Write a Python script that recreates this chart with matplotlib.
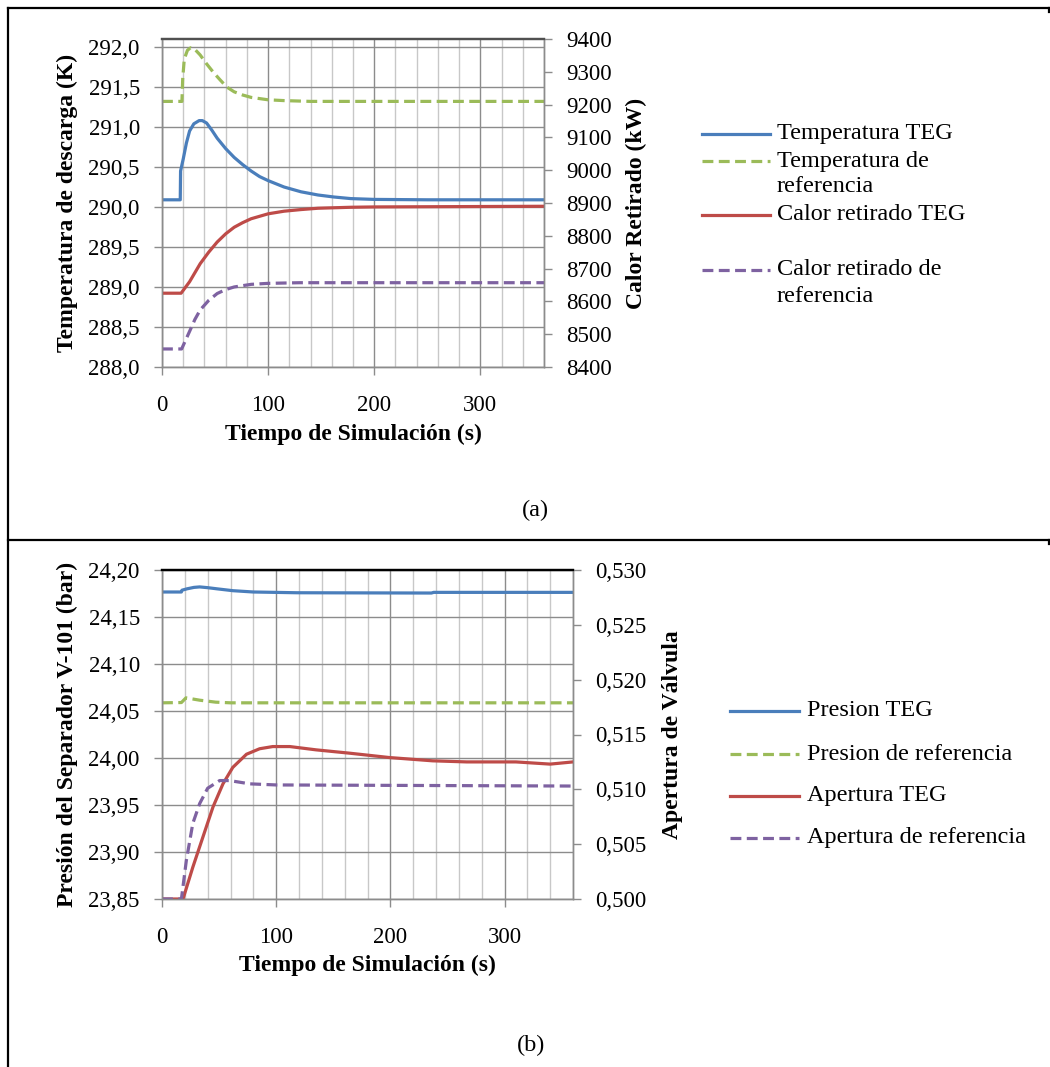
import numpy as np
import matplotlib
matplotlib.use('Agg')
import matplotlib.pyplot as plt
from matplotlib.lines import Line2D
from matplotlib.ticker import FuncFormatter, MultipleLocator

plt.rcParams['font.family'] = ['Liberation Serif', 'DejaVu Serif']
FS = 16.5      # numeros de ejes
FS_LAB = 17    # titulos de ejes
FS_LEG = 17.5  # leyenda

# ---- datos (a) ----
t_temp_teg = [0, 17.2, 17.5, 20, 23, 26, 30, 35, 38, 42, 47, 52, 60, 68, 76, 84, 92, 100,
              115, 131, 147, 162, 178, 200, 250, 360]
temp_teg = [290.09, 290.09, 290.45, 290.6, 290.8, 290.95, 291.04, 291.08, 291.08, 291.05,
            290.96, 290.86, 290.73, 290.62, 290.53, 290.45, 290.38, 290.33,
            290.25, 290.19, 290.15, 290.125, 290.105, 290.095, 290.09, 290.09]

t_temp_ref = [0, 18.8, 19.5, 21, 24, 27, 31, 36, 42, 48, 54, 61, 68, 76, 84, 100, 115, 140, 360]
temp_ref = [291.32, 291.32, 291.6, 291.85, 291.96, 291.99, 291.97, 291.9, 291.79, 291.69,
            291.6, 291.5, 291.44, 291.4, 291.37, 291.34, 291.33, 291.32, 291.32]

t_calor_teg = [0, 18, 26, 36, 44, 52, 60, 68, 76, 84, 100, 115, 131, 147, 178, 200, 360]
calor_teg = [8625, 8625, 8660, 8715, 8750, 8781, 8806, 8826, 8840, 8852, 8867, 8875,
             8880, 8884, 8887, 8888, 8890]

t_calor_ref = [0, 18.5, 22, 26.6, 31, 36, 44, 52, 60, 68, 84, 100, 130, 360]
calor_ref = [8455, 8455, 8480, 8513, 8545, 8574, 8603, 8624, 8636, 8644, 8652, 8655, 8657, 8657]

# ---- datos (b) ----
t_pres_teg = [0, 17, 17.5, 22, 28, 33, 40, 48, 62, 80, 118, 236, 238, 360]
pres_teg = [24.1766, 24.1766, 24.1785, 24.1800, 24.1815, 24.1820, 24.1812, 24.1800,
            24.1780, 24.1766, 24.1758, 24.1755, 24.1762, 24.1762]

t_pres_ref = [0, 17, 21, 33, 47, 60, 360]
pres_ref = [24.0587, 24.0590, 24.0640, 24.0615, 24.0594, 24.0587, 24.0587]

t_aper_teg = [0, 18.4, 27, 36, 44.7, 53.4, 62, 74, 85.5, 97, 112, 135, 164, 199, 237,
              267, 310, 340, 350, 360]
aper_teg = [0.5, 0.5, 0.5029, 0.5057, 0.5084, 0.5105, 0.5120, 0.5132, 0.5137, 0.5139,
            0.5139, 0.5136, 0.5133, 0.5129, 0.5126, 0.5125, 0.5125, 0.5123, 0.5124, 0.5125]

t_aper_ref = [0, 17, 21.3, 27, 33, 40, 50.5, 59, 77, 100, 360]
aper_ref = [0.5, 0.5, 0.5035, 0.5069, 0.5087, 0.5101, 0.5108, 0.5108, 0.5105, 0.5104, 0.5103]

labels_a = [['Temperatura TEG'], ['Temperatura de', 'referencia'],
            ['Calor retirado TEG'], ['Calor retirado de', 'referencia']]
labels_b = [['Presion TEG'], ['Presion de referencia'], ['Apertura TEG'],
            ['Apertura de referencia']]

BLUE, GREEN, RED, PURPLE = '#4A7EBB', '#9BBB59', '#BE4B48', '#7E62A1'
DASH = (0, (3.4, 1.7))
LW = 2.3
GRID_DARK = '#8C8C8C'
GRID_LIGHT = '#C8C8C8'
W, H = 1050, 1067

fig = plt.figure(figsize=(W / 100, H / 100), dpi=100)


def fx(px):
    return px / W


def fy(py):
    return 1 - py / H


def comma(fmt):
    return FuncFormatter(lambda v, p: (fmt % v).replace('.', ','))


def style_axes(ax, axr, top_color):
    ax.set_xlim(0, 360)
    ax.xaxis.set_major_locator(MultipleLocator(100))
    ax.xaxis.set_minor_locator(MultipleLocator(20))
    ax.grid(True, which='minor', axis='x', color=GRID_LIGHT, lw=1.0)
    ax.grid(True, which='major', axis='x', color=GRID_DARK, lw=1.0)
    ax.grid(True, which='major', axis='y', color=GRID_DARK, lw=1.0)
    ax.set_axisbelow(True)
    for a in (ax, axr):
        for s in ('left', 'right', 'bottom'):
            a.spines[s].set_color(GRID_DARK)
            a.spines[s].set_linewidth(1.0)
        a.spines['top'].set_color(top_color)
        a.spines['top'].set_linewidth(1.6)
        a.tick_params(which='major', direction='out', length=6, width=1.0,
                      color=GRID_DARK, labelsize=FS)
    ax.tick_params(axis='x', which='minor', length=0)
    ax.tick_params(axis='x', pad=14)
    ax.tick_params(axis='y', pad=10)
    axr.tick_params(axis='y', pad=10)
    ax.set_xlabel('Tiempo de Simulación (s)', fontsize=FS_LAB, fontweight='bold')


def legend(lines_x, text_x, ys, styles, labels):
    for y, (col, ls), lab in zip(ys, styles, labels):
        fig.add_artist(Line2D([fx(lines_x[0]), fx(lines_x[1])], [fy(y), fy(y)],
                              color=col, lw=LW, linestyle=ls, transform=fig.transFigure))
        for k, txt in enumerate(lab):
            fig.text(fx(text_x), fy(y + 26 * k), txt, fontsize=FS_LEG, va='center', ha='left')


# ---------- (a) ----------
ax1 = fig.add_axes([fx(162), fy(367), (544 - 162) / W, (367 - 39) / H])
ax1r = ax1.twinx()
ax1.plot(t_temp_teg, temp_teg, color=BLUE, lw=LW)
ax1.plot(t_temp_ref, temp_ref, color=GREEN, lw=LW, linestyle=DASH)
ax1r.plot(t_calor_teg, calor_teg, color=RED, lw=LW)
ax1r.plot(t_calor_ref, calor_ref, color=PURPLE, lw=LW, linestyle=DASH)
ax1.set_ylim(288.0, 292.1)
ax1.set_yticks(np.arange(288.0, 292.01, 0.5))
ax1.yaxis.set_major_formatter(comma('%.1f'))
ax1r.set_ylim(8400, 9400)
ax1r.set_yticks(np.arange(8400, 9401, 100))
style_axes(ax1, ax1r, '#505050')
ax1.set_ylabel('Temperatura de descarga (K)', fontsize=FS_LAB, fontweight='bold')
ax1r.set_ylabel('Calor Retirado (kW)', fontsize=FS_LAB, fontweight='bold')
ax1.yaxis.set_label_coords((78 - 162) / 382, 0.5)
ax1r.yaxis.set_label_coords((626 - 162) / 382, 0.5)
ax1.xaxis.set_label_coords(0.5, (367 - 424) / 328)

legend((702, 770), 777, [134, 161, 215, 270],
       [(BLUE, '-'), (GREEN, DASH), (RED, '-'), (PURPLE, DASH)], labels_a)

# ---------- (b) ----------
ax2 = fig.add_axes([fx(162), fy(899), (573 - 162) / W, (899 - 570) / H])
ax2r = ax2.twinx()
ax2.plot(t_pres_teg, pres_teg, color=BLUE, lw=LW)
ax2.plot(t_pres_ref, pres_ref, color=GREEN, lw=LW, linestyle=DASH)
ax2r.plot(t_aper_teg, aper_teg, color=RED, lw=LW)
ax2r.plot(t_aper_ref, aper_ref, color=PURPLE, lw=LW, linestyle=DASH)
ax2.set_ylim(23.85, 24.20)
ax2.set_yticks(np.arange(23.85, 24.201, 0.05))
ax2.yaxis.set_major_formatter(comma('%.2f'))
ax2r.set_ylim(0.500, 0.530)
ax2r.set_yticks(np.arange(0.500, 0.5301, 0.005))
ax2r.yaxis.set_major_formatter(comma('%.3f'))
style_axes(ax2, ax2r, '#000000')
ax2.set_ylabel('Presión del Separador V-101 (bar)', fontsize=FS_LAB, fontweight='bold')
ax2r.set_ylabel('Apertura de Válvula', fontsize=FS_LAB, fontweight='bold')
ax2.yaxis.set_label_coords((78 - 162) / 411, 0.5)
ax2r.yaxis.set_label_coords((662 - 162) / 411, 0.5)
ax2.xaxis.set_label_coords(0.5, (899 - 955) / 329)

legend((730, 799), 807, [711, 754, 796, 838],
       [(BLUE, '-'), (GREEN, DASH), (RED, '-'), (PURPLE, DASH)], labels_b)

# marco de tabla y subtitulos
for xs, ys in [((8, 1049), (8, 8)), ((8, 8), (8, 1067)), ((8, 1049), (540, 540)),
               ((1049, 1049), (8, 12)), ((1049, 1049), (540, 544))]:
    fig.add_artist(Line2D([fx(xs[0]), fx(xs[1])], [fy(ys[0]), fy(ys[1])],
                          color='black', lw=1.6, transform=fig.transFigure))
fig.text(fx(535), fy(510), '(a)', fontsize=FS_LEG, ha='center', va='center')
fig.text(fx(531), fy(1045), '(b)', fontsize=FS_LEG, ha='center', va='center')

fig.savefig('out.png', dpi=100)
